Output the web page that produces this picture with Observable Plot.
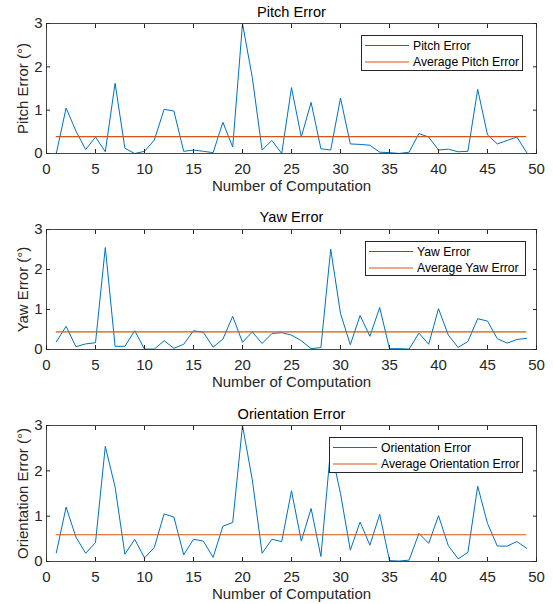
<!DOCTYPE html>
<html>
<head>
<meta charset="utf-8">
<script src="https://cdn.jsdelivr.net/npm/d3@7"></script>
<script src="https://cdn.jsdelivr.net/npm/@observablehq/plot@0.6"></script>
<style>
  body { margin: 0; background: #fff; }
  #root { width: 553px; }
  .chart { position: relative; width: 553px; }
  .chart > svg { display: block; }
  .legend { position: absolute; overflow: visible; }
</style>
</head>
<body>
<div id="root"></div>
<script>
// ---------- data ----------
const computation = [1,2,3,4,5,6,7,8,9,10,11,12,13,14,15,16,17,18,19,20,21,22,23,24,25,26,27,28,29,30,31,32,33,34,35,36,37,38,39,40,41,42,43,44,45,46,47,48,49];

const pitchError = [0.00,1.05,0.52,0.09,0.38,0.04,1.62,0.12,0.00,0.05,0.31,1.02,0.98,0.05,0.08,0.05,0.02,0.72,0.15,3.00,
                    1.75,0.08,0.30,0.00,1.52,0.38,1.18,0.11,0.08,1.28,0.22,0.21,0.19,0.03,0.02,0.00,0.03,0.46,0.38,0.08,
                    0.10,0.04,0.05,1.48,0.43,0.22,0.30,0.38,0.02];
const pitchAverage = 0.39;

const yawError = [0.19,0.58,0.07,0.14,0.17,2.55,0.08,0.08,0.47,0.01,0.01,0.22,0.03,0.13,0.47,0.43,0.06,0.26,0.83,0.18,
                  0.44,0.15,0.40,0.42,0.36,0.22,0.02,0.05,2.51,0.90,0.12,0.85,0.33,1.05,0.02,0.02,0.01,0.41,0.13,1.02,
                  0.36,0.05,0.20,0.77,0.71,0.27,0.16,0.25,0.28];
const yawAverage = 0.44;

const orientationError = [0.19,1.20,0.54,0.18,0.42,2.54,1.64,0.16,0.49,0.08,0.31,1.05,0.98,0.15,0.49,0.45,0.09,0.78,0.86,3.00,
                          1.80,0.18,0.49,0.44,1.56,0.45,1.17,0.11,2.50,1.50,0.25,0.87,0.36,1.04,0.02,0.01,0.03,0.62,0.40,1.01,
                          0.35,0.06,0.20,1.66,0.84,0.34,0.34,0.44,0.29];
const orientationAverage = 0.59;

const xTicks = [0,5,10,15,20,25,30,35,40,45,50];
const yTicks = [0,1,2,3];
const xLabel = "Number of Computation";

const titles = ["Pitch Error", "Yaw Error", "Orientation Error"];
const yLabels = ["Pitch Error (°)", "Yaw Error (°)", "Orientation Error (°)"];
const seriesLabels = ["Pitch Error", "Yaw Error", "Orientation Error"];
const averageLabels = ["Average Pitch Error", "Average Yaw Error", "Average Orientation Error"];

// ---------- style ----------
const FONT = "'Liberation Sans', Arial, Helvetica, sans-serif";
const BLUE = "#0072BD";
const ORANGE = "#D95319";
const AX = "#262626";

const panels = [
  {values: pitchError, avg: pitchAverage, height: 200, mt: 23, mb: 47, titleDy: -11,
   legend: {left: 361, top: 35, width: 162, height: 36}},
  {values: yawError, avg: yawAverage, height: 200, mt: 29, mb: 51, titleDy: -12,
   legend: {left: 365, top: 41, width: 161, height: 35}},
  {values: orientationError, avg: orientationAverage, height: 204, mt: 25, mb: 43, titleDy: -11,
   legend: {left: 329, top: 37, width: 194, height: 36}}
];

const root = document.getElementById("root");

panels.forEach((p, i) => {
  const data = computation.map((x, k) => ({x, y: p.values[k]}));
  const svg = Plot.plot({
    width: 553,
    height: p.height,
    marginTop: p.mt,
    marginBottom: p.mb,
    marginLeft: 46,
    marginRight: 17,
    style: {fontFamily: FONT, fontSize: "15px", color: AX, background: "white", overflow: "visible"},
    x: {domain: [0, 50]},
    y: {domain: [0, 3]},
    marks: [
      Plot.lineY(data, {x: "x", y: "y", stroke: BLUE, strokeWidth: 1}),
      Plot.ruleY([p.avg], {x1: computation[0], x2: computation[computation.length - 1], stroke: ORANGE, strokeWidth: 1.2}),
      Plot.frame({stroke: AX, strokeWidth: 1, strokeOpacity: 0.85}),
      // tick labels
      Plot.axisX(xTicks, {anchor: "bottom", tickSize: 0, tickPadding: 10, label: null, fill: AX, fontSize: 15}),
      Plot.axisY(yTicks, {anchor: "left", tickSize: 0, tickPadding: 4, label: null, fill: AX, fontSize: 15}),
      // inward ticks on all four sides
      Plot.axisX(xTicks, {anchor: "bottom", tickSize: 4, dy: -4, fill: "none", label: null, stroke: AX}),
      Plot.axisX(xTicks, {anchor: "top", tickSize: 4, dy: 4, fill: "none", label: null, stroke: AX}),
      Plot.axisY(yTicks, {anchor: "left", tickSize: 4, dx: 4, fill: "none", label: null, stroke: AX}),
      Plot.axisY(yTicks, {anchor: "right", tickSize: 4, dx: -4, fill: "none", label: null, stroke: AX}),
      // title and axis labels
      Plot.text([titles[i]], {text: d => d, frameAnchor: "top", lineAnchor: "middle", textAnchor: "middle",
        dy: p.titleDy, fontSize: 14.6, fill: "#000"}),
      Plot.text([xLabel], {text: d => d, frameAnchor: "bottom", lineAnchor: "middle", textAnchor: "middle",
        dy: 33, fontSize: 15, fill: AX}),
      Plot.text([yLabels[i]], {text: d => d, frameAnchor: "left", lineAnchor: "middle", textAnchor: "middle",
        rotate: -90, dx: -23.5, fontSize: 15, fill: AX})
    ]
  });

  const wrap = document.createElement("div");
  wrap.className = "chart";
  wrap.appendChild(svg);

  // legend box
  const L = p.legend;
  const lg = d3.create("svg")
    .attr("class", "legend")
    .attr("width", L.width)
    .attr("height", L.height)
    .style("left", L.left + "px")
    .style("top", L.top + "px");
  lg.append("rect")
    .attr("x", 0.5).attr("y", 0.5)
    .attr("width", L.width - 1).attr("height", L.height - 1)
    .attr("fill", "white").attr("stroke", AX).attr("stroke-width", 1);
  const rows = [
    {label: seriesLabels[i], color: BLUE, w: 1},
    {label: averageLabels[i], color: ORANGE, w: 1.2}
  ];
  rows.forEach((r, k) => {
    const yy = 10.5 + k * 16.5;
    lg.append("line")
      .attr("x1", 4).attr("x2", 48)
      .attr("y1", yy).attr("y2", yy)
      .attr("stroke", r.color).attr("stroke-width", r.w);
    lg.append("text")
      .attr("x", 52).attr("y", yy)
      .attr("dy", "0.35em")
      .attr("font-family", FONT)
      .attr("font-size", 12.2)
      .attr("fill", "#000")
      .text(r.label);
  });
  wrap.appendChild(lg.node());
  root.appendChild(wrap);
});
</script>
</body>
</html>
